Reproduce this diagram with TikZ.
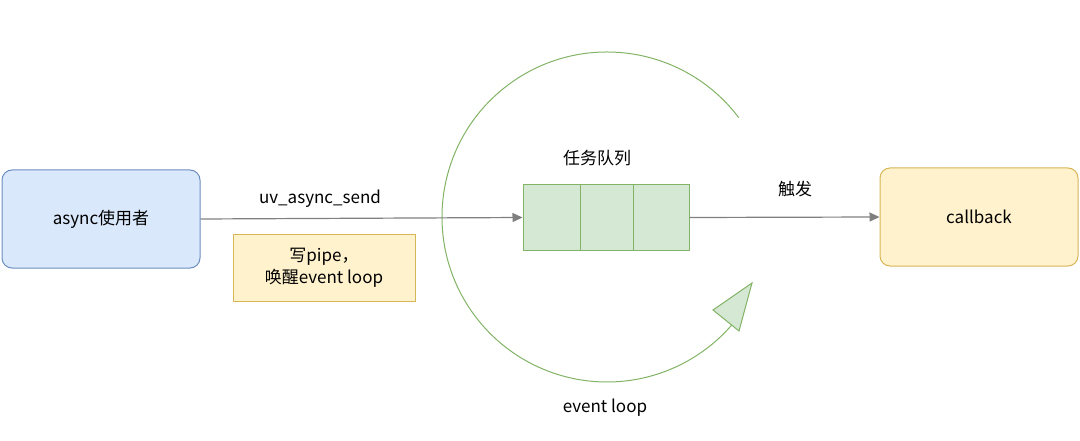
\documentclass[tikz,border=0pt]{standalone}
\usepackage{fontspec}
\setmainfont{Noto Sans CJK SC}
\usetikzlibrary{arrows.meta}
\definecolor{bfill}{HTML}{DAE8FC}\definecolor{bdraw}{HTML}{6C8EBF}
\definecolor{yfill}{HTML}{FFF2CC}\definecolor{ydraw}{HTML}{D6B656}
\definecolor{gfill}{HTML}{D5E8D4}\definecolor{gdraw}{HTML}{82B366}
\definecolor{ar}{HTML}{808080}
\begin{document}
\begin{tikzpicture}[x=1pt,y=-1pt,font=\fontsize{17}{22}\selectfont,
  conn/.style={draw=ar,line width=1.2pt,-{Triangle[length=10pt,width=9pt]}},
  lbl/.style={inner sep=0pt}]
\useasboundingbox (0,0) rectangle (1080,441);
\node[draw=bdraw,fill=bfill,rounded corners=10pt,line width=1pt,minimum width=198pt,minimum height=98pt] (user) at (101,219) {async使用者};
\node[draw=ydraw,fill=yfill,rounded corners=10pt,line width=1pt,minimum width=198pt,minimum height=98pt] (cb) at (979,217) {callback};
\node[draw=ydraw,fill=yfill,line width=1pt,minimum width=182pt,minimum height=66pt,align=center] (note) at (324,268) {写pipe，\\唤醒event loop};
\node[draw=gdraw,fill=gfill,line width=1pt,minimum width=166pt,minimum height=65pt] (q) at (606,217.5) {};
\draw[gdraw,line width=1pt] (580,185) -- (580,250) (633,185) -- (633,250);
\draw[gdraw,line width=1pt] (607,217) ++(-37:165) arc[start angle=-37,end angle=-319,radius=165];
\draw[gdraw,fill=gfill,line width=1pt] (752,283) -- (713,310) -- (739,331) -- cycle;
\draw[conn] (user.east) -- (q.west);
\draw[conn] (q.east) -- (cb.west);
\node[lbl] (l1) at (320,199) {uv\_async\_send};
\node[lbl] (l2) at (597,158) {任务队列};
\node[lbl] (l3) at (795,189) {触发};
\node[lbl] (l4) at (605,408) {event loop};
\end{tikzpicture}
\end{document}
